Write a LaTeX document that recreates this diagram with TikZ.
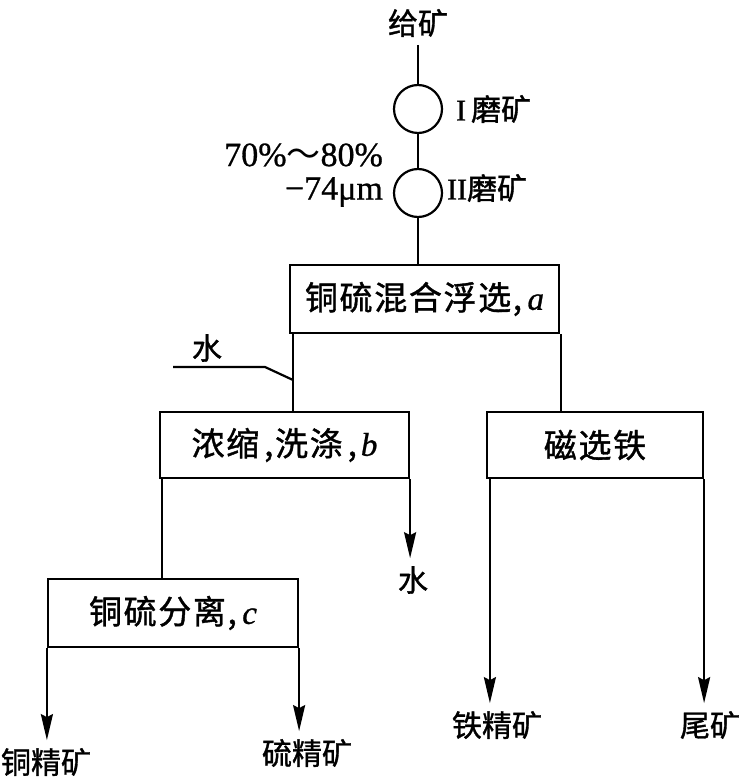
\documentclass[tikz,border=0pt]{standalone}
\usepackage{fontspec}
\setmainfont{Noto Sans CJK SC}[FakeBold=1.2]
\newfontfamily\lat{Liberation Serif}[FakeBold=0.8]
\newfontfamily\boxcjk{Noto Sans CJK SC}[LetterSpace=5,FakeBold=1.2]
\newfontfamily\tildefont{Noto Sans CJK SC}
\usetikzlibrary{arrows.meta}
\begin{document}
\begin{tikzpicture}[x=1pt,y=-1pt,
  line width=2.2pt,
  proc/.style={draw, inner sep=0pt, font=\fontsize{33}{36}\selectfont\boxcjk},
  mill/.style={draw, circle, inner sep=0pt, minimum size=48pt},
  lab/.style={inner sep=0pt, outer sep=8pt, font=\fontsize{30}{34}\selectfont},
  note/.style={inner sep=0pt, font=\fontsize{34}{38}\selectfont\lat},
  flow/.style={-{Stealth[length=26pt,width=12pt,inset=3pt]}}]
\useasboundingbox (0,0) rectangle (750,783);

% feed and grinding stages
\node[lab] (feed) at (418,23) {给矿};
\node[mill] (mill1) at (418,109) {};
\node[mill] (mill2) at (418,193) {};
\node[anchor=west, inner sep=0pt, font=\fontsize{30}{34}\selectfont] (m1lab) at (455,109) {{\lat I}\,磨矿};
\node[anchor=west, inner sep=0pt, font=\fontsize{30}{34}\selectfont] (m2lab) at (446,188) {{\lat II}磨矿};
\node[note, anchor=east] (grade) at (384,155) {70\%{\tildefont ～}80\%};
\node[note, anchor=east] (size) at (384,192) {−74μm};

% process boxes
\node[proc, minimum width=269pt, minimum height=68pt] (bulk) at (424.5,299) {铜硫混合浮选,\,{\lat\itshape a}};
\node[proc, minimum width=249pt, minimum height=66pt] (thick) at (284.5,445) {浓缩\hspace{5pt},洗涤\hspace{5pt},\hspace{4pt}{\lat\itshape b}};
\node[proc, minimum width=216pt, minimum height=66pt] (mag) at (595,445) {磁选铁};
\node[proc, minimum width=250pt, minimum height=68pt] (sep) at (173,613) {铜硫分离,\,{\lat\itshape c}};

% products
\node[lab] (wout) at (413,580) {水};
\node[lab] (win) at (207,348) {水};
\node[lab] (cu) at (46,762) {铜精矿};
\node[lab] (s) at (307,753) {硫精矿};
\node[lab] (fe) at (497,725) {铁精矿};
\node[lab] (tail) at (710,725) {尾矿};

% connectors
\coordinate (ab) at (293,0);
\coordinate (af) at (561,0);
\coordinate (bc) at (162,0);
\coordinate (wstart) at (173,367);
\coordinate (wj) at (293,380);

\draw (feed.south) -- (mill1.north);
\draw (mill1.south) -- (mill2.north);
\draw (mill2.south) -- (mill2.south |- bulk.north);
\draw (ab |- bulk.south) -- (ab |- thick.north);
\draw (af |- bulk.south) -- (af |- mag.north);
\draw (wstart) -- ++(92,0) -- (wj);
\draw (bc |- thick.south) -- (bc |- sep.north);
\draw[flow] (thick.south east) -- (thick.south east |- wout.north);
\draw[flow] (sep.south west) -- (sep.south west |- cu.north);
\draw[flow] (sep.south east) -- (sep.south east |- s.north);
\draw[flow] ([xshift=4pt]mag.south west) -- ([xshift=4pt]mag.south west |- fe.north);
\draw[flow] (mag.south east) -- (mag.south east |- tail.north);
\end{tikzpicture}
\end{document}
